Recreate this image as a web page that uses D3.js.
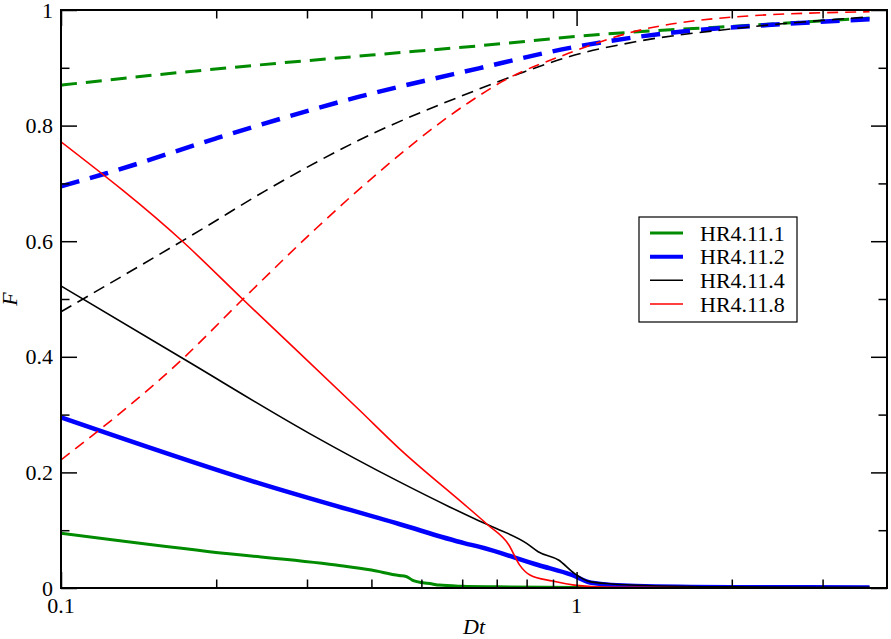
<!DOCTYPE html>
<html>
<head>
<meta charset="utf-8">
<script src="https://cdn.jsdelivr.net/npm/d3@7"></script>
<style>
  html, body { margin: 0; padding: 0; background: #fff; }
  svg { display: block; }
  text { font-family: "Liberation Serif", "Times New Roman", serif; }
</style>
</head>
<body>
<svg id="chart" width="891" height="639"></svg>
<script>
// ---------- data ----------
const seriesNames = ["HR4.11.1", "HR4.11.2", "HR4.11.4", "HR4.11.8"];

// upper (dashed) curves
const g1UpX = [0.1, 0.15, 0.2427, 0.4, 0.646, 1.12, 2.03, 3.7];
const g1UpY = [0.870, 0.887, 0.905, 0.922, 0.938, 0.958, 0.972, 0.986];
const b2UpX = [0.1, 0.1226, 0.2, 0.2427, 0.379, 0.646, 0.9645, 1.5, 2.35, 3.7];
const b2UpY = [0.695, 0.7175, 0.778, 0.801, 0.850, 0.899, 0.934, 0.960, 0.974, 0.984];
const k4UpX = [0.1, 0.187, 0.25, 0.379, 0.646, 0.775, 0.9645, 1.3, 2.03, 3.7];
const k4UpY = [0.478, 0.620, 0.688, 0.775, 0.863, 0.890, 0.919, 0.945, 0.968, 0.988];
const r8UpX = [0.1, 0.1724, 0.2252, 0.3124, 0.379, 0.618, 0.7166, 0.9645, 1.26, 2.03, 3.7];
const r8UpY = [0.2215, 0.397, 0.4995, 0.622, 0.690, 0.840, 0.876, 0.925, 0.960, 0.988, 0.997];

// lower (solid) curves
const g1LoX = [0.1, 0.194, 0.3415, 0.4, 0.4525, 0.467, 0.48, 0.49, 0.525, 0.541, 0.6, 0.7, 1.0, 2.0, 3.7];
const g1LoY = [0.0946, 0.0628, 0.0398, 0.031, 0.0215, 0.020, 0.0138, 0.011, 0.007, 0.005, 0.003, 0.002, 0.001, 0.0, 0.0];
const b2LoX = [0.1, 0.2427, 0.4525, 0.6072, 0.646, 0.8422, 0.98, 1.068, 1.3, 2.0, 3.7];
const b2LoY = [0.2953, 0.181, 0.1107, 0.0773, 0.0715, 0.0398, 0.0225, 0.0092, 0.0035, 0.0015, 0.001];
const k4LoX = [0.1, 0.1724, 0.303, 0.4525, 0.566, 0.646, 0.686, 0.8, 0.8423, 0.9225, 0.99, 1.059, 1.17, 1.4, 2.0, 3.7];
const k4LoY = [0.5225, 0.397, 0.2676, 0.184, 0.1407, 0.1165, 0.106, 0.0773, 0.0628, 0.0484, 0.0254, 0.011, 0.007, 0.004, 0.002, 0.001];
const r8LoX = [0.1, 0.1724, 0.2252, 0.379, 0.4525, 0.6178, 0.673, 0.739, 0.775, 0.812, 0.898, 0.99, 1.1, 1.3, 2.0, 3.7];
const r8LoY = [0.772, 0.599, 0.4995, 0.308, 0.2417, 0.138, 0.109, 0.0744, 0.040, 0.0225, 0.012, 0.005, 0.002, 0.001, 0.0, 0.0];

const xMajorTicks = [0.1, 1];
const xMajorLabels = ["0.1", "1"];
const xMinorTicks = [0.2, 0.3, 0.4, 0.5, 0.6, 0.7, 0.8, 0.9, 2, 3];
const yMajorTicks = [0, 0.2, 0.4, 0.6, 0.8, 1];
const yMajorLabels = ["0", "0.2", "0.4", "0.6", "0.8", "1"];
const yMinorTicks = [0.1, 0.3, 0.5, 0.7, 0.9];

// ---------- styles ----------
const colors = ["#008b00", "#0000ff", "#000000", "#ff0000"];
const widths = [3, 4.5, 1.6, 1.6];
const dashes = ["16,9", "19,11", "12,7", "11,7"];

const upX = [g1UpX, b2UpX, k4UpX, r8UpX], upY = [g1UpY, b2UpY, k4UpY, r8UpY];
const loX = [g1LoX, b2LoX, k4LoX, r8LoX], loY = [g1LoY, b2LoY, k4LoY, r8LoY];

// ---------- layout ----------
const L = 61, R = 887, T = 10, B = 588;
const svg = d3.select("#chart");
const x = d3.scaleLog().domain([0.1, 4]).range([L, R]);
const y = d3.scaleLinear().domain([0, 1]).range([B, T]);

svg.append("defs").append("clipPath").attr("id", "clip")
  .append("rect").attr("x", L).attr("y", T - 3).attr("width", R - L).attr("height", B - T + 3);

const line = d3.line().x(d => x(d[0])).y(d => y(d[1])).curve(d3.curveMonotoneX);
const plot = svg.append("g").attr("clip-path", "url(#clip)");

for (let i = 0; i < 4; i++) {
  plot.append("path")
    .datum(d3.zip(loX[i], loY[i]))
    .attr("d", line).attr("fill", "none")
    .attr("stroke", colors[i]).attr("stroke-width", widths[i])
    .attr("stroke-linejoin", "round");
  plot.append("path")
    .datum(d3.zip(upX[i], upY[i]))
    .attr("d", line).attr("fill", "none")
    .attr("stroke", colors[i]).attr("stroke-width", widths[i])
    .attr("stroke-dasharray", dashes[i]);
}

// ---------- axes (ticks inward, mirrored) ----------
const MAJ = 16, MIN = 8.5;
const axB = d3.axisTop(x).tickValues(xMajorTicks).tickFormat("").tickSizeOuter(0);
function tickLayer(axisGen, tr) {
  const g = svg.append("g").attr("transform", tr).call(axisGen);
  g.select(".domain").remove();
  g.selectAll("line").attr("stroke", "#000").attr("stroke-width", 1.5);
  return g;
}
tickLayer(d3.axisTop(x).tickValues(xMajorTicks).tickFormat("").tickSize(MAJ), `translate(0,${B})`);
tickLayer(d3.axisTop(x).tickValues(xMinorTicks).tickFormat("").tickSize(MIN), `translate(0,${B})`);
tickLayer(d3.axisBottom(x).tickValues(xMajorTicks).tickFormat("").tickSize(MAJ), `translate(0,${T})`);
tickLayer(d3.axisBottom(x).tickValues(xMinorTicks).tickFormat("").tickSize(MIN), `translate(0,${T})`);
tickLayer(d3.axisRight(y).tickValues(yMajorTicks).tickFormat("").tickSize(MAJ), `translate(${L},0)`);
tickLayer(d3.axisRight(y).tickValues(yMinorTicks).tickFormat("").tickSize(MIN), `translate(${L},0)`);
tickLayer(d3.axisLeft(y).tickValues(yMajorTicks).tickFormat("").tickSize(MAJ), `translate(${R},0)`);
tickLayer(d3.axisLeft(y).tickValues(yMinorTicks).tickFormat("").tickSize(MIN), `translate(${R},0)`);

// frame
svg.append("rect").attr("x", L).attr("y", T).attr("width", R - L).attr("height", B - T)
  .attr("fill", "none").attr("stroke", "#000").attr("stroke-width", 2);

// tick labels
svg.append("g").selectAll("text").data(xMajorTicks).join("text")
  .attr("x", d => x(d)).attr("y", 613).attr("text-anchor", "middle")
  .attr("font-size", 22).text((d, i) => xMajorLabels[i]);
svg.append("g").selectAll("text").data(yMajorTicks).join("text")
  .attr("x", 53).attr("y", d => y(d) + 7.5).attr("text-anchor", "end")
  .attr("font-size", 22).text((d, i) => yMajorLabels[i]);

// axis titles
svg.append("text").attr("x", (L + R) / 2).attr("y", 634).attr("text-anchor", "middle")
  .attr("font-size", 22).attr("font-style", "italic").text("Dt");
svg.append("text").attr("transform", `translate(17,${(T + B) / 2}) rotate(-90)`)
  .attr("text-anchor", "middle").attr("font-size", 22).attr("font-style", "italic").text("F");

// legend
const lg = svg.append("g");
lg.append("rect").attr("x", 639).attr("y", 217).attr("width", 158).attr("height", 105)
  .attr("fill", "#fff").attr("stroke", "#000").attr("stroke-width", 1.2);
const rowY = [233, 256.7, 280.3, 304];
seriesNames.forEach((n, i) => {
  lg.append("line").attr("x1", 650).attr("x2", 683).attr("y1", rowY[i]).attr("y2", rowY[i])
    .attr("stroke", colors[i]).attr("stroke-width", widths[i] === 4.5 ? 4 : widths[i]);
  lg.append("text").attr("x", 700).attr("y", rowY[i] + 7.5).attr("font-size", 22).text(n);
});
</script>
</body>
</html>
